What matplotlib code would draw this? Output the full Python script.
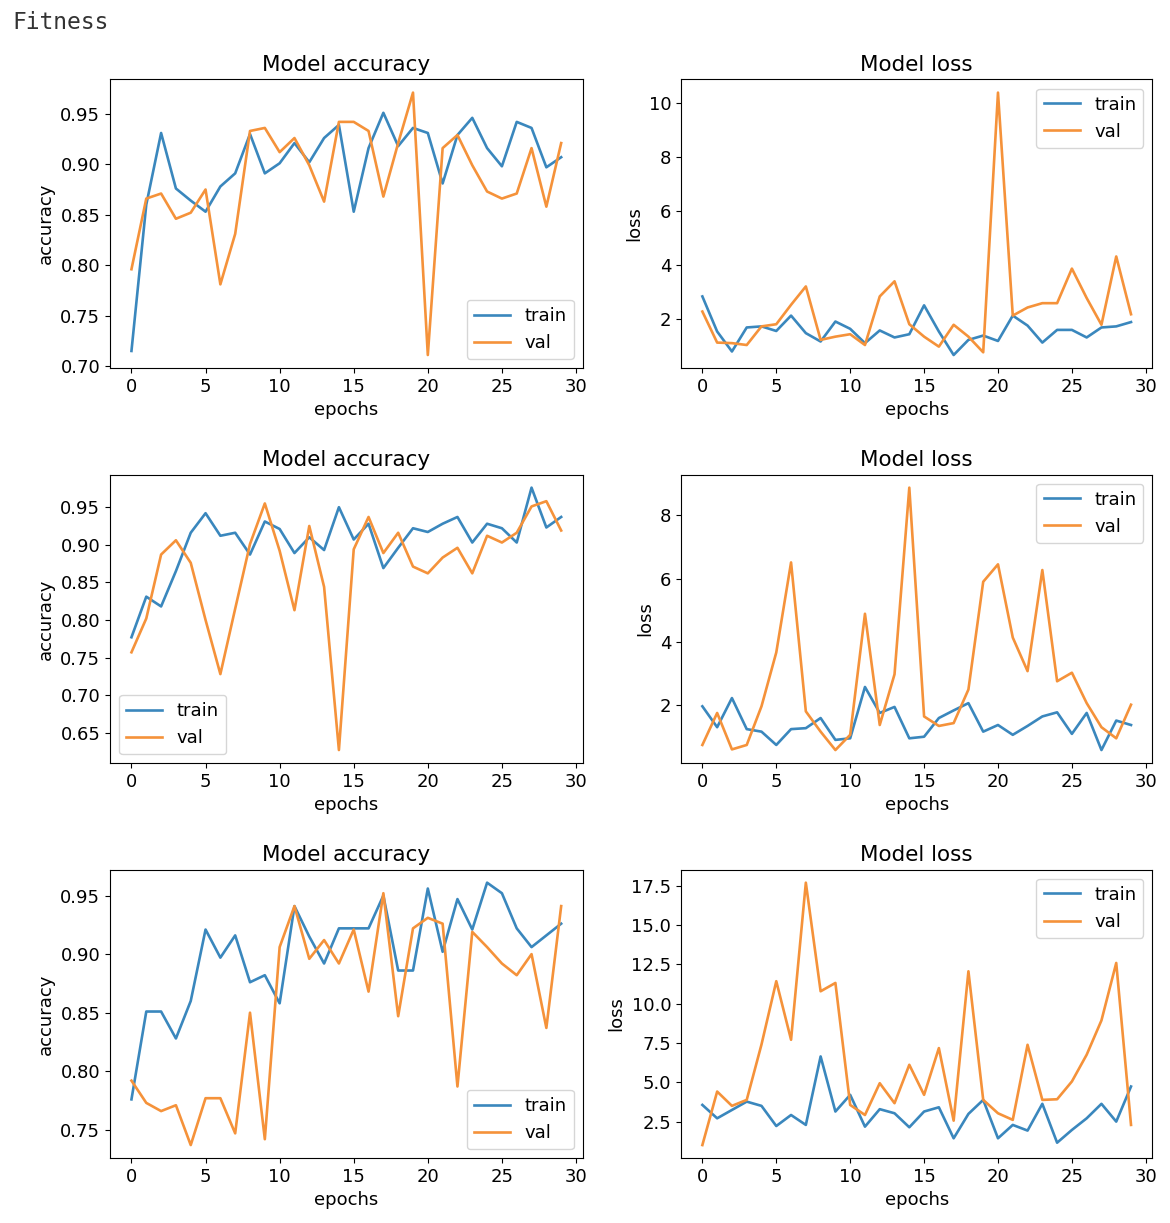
import numpy as np
import matplotlib
matplotlib.use("Agg")
import matplotlib.pyplot as plt

epochs = np.arange(30)

# run 1
acc1_train = [0.715, 0.860, 0.931, 0.876, 0.864, 0.853, 0.878, 0.891, 0.930, 0.891,
              0.901, 0.921, 0.902, 0.926, 0.939, 0.853, 0.916, 0.951, 0.918, 0.936,
              0.931, 0.881, 0.929, 0.946, 0.916, 0.898, 0.942, 0.936, 0.897, 0.907]
acc1_val = [0.796, 0.866, 0.871, 0.846, 0.852, 0.875, 0.781, 0.831, 0.933, 0.936,
            0.912, 0.926, 0.899, 0.863, 0.942, 0.942, 0.933, 0.868, 0.921, 0.971,
            0.711, 0.916, 0.929, 0.899, 0.873, 0.866, 0.871, 0.916, 0.858, 0.921]
loss1_train = [2.83, 1.53, 0.79, 1.68, 1.72, 1.55, 2.12, 1.47, 1.16, 1.90,
               1.63, 1.10, 1.57, 1.31, 1.43, 2.50, 1.53, 0.66, 1.22, 1.38,
               1.18, 2.12, 1.75, 1.12, 1.59, 1.59, 1.31, 1.68, 1.72, 1.88]
loss1_val = [2.27, 1.12, 1.10, 1.03, 1.72, 1.80, 2.52, 3.20, 1.22, 1.34,
             1.43, 1.03, 2.83, 3.39, 1.80, 1.34, 0.97, 1.78, 1.34, 0.76,
             10.38, 2.12, 2.42, 2.58, 2.58, 3.86, 2.77, 1.78, 4.31, 2.17]

# run 2
acc2_train = [0.777, 0.831, 0.818, 0.865, 0.916, 0.942, 0.912, 0.916, 0.887, 0.931,
              0.921, 0.889, 0.910, 0.893, 0.950, 0.907, 0.928, 0.869, 0.896, 0.922,
              0.917, 0.928, 0.937, 0.903, 0.928, 0.922, 0.903, 0.976, 0.923, 0.937]
acc2_val = [0.757, 0.802, 0.887, 0.906, 0.876, 0.800, 0.728, 0.815, 0.901, 0.955,
            0.892, 0.813, 0.925, 0.844, 0.627, 0.894, 0.937, 0.889, 0.916, 0.871,
            0.862, 0.883, 0.896, 0.862, 0.912, 0.903, 0.916, 0.951, 0.958, 0.919]
loss2_train = [1.97, 1.31, 2.23, 1.25, 1.17, 0.75, 1.25, 1.28, 1.60, 0.91,
               0.96, 2.58, 1.76, 1.95, 0.96, 1.01, 1.60, 1.84, 2.07, 1.17,
               1.38, 1.07, 1.35, 1.65, 1.78, 1.10, 1.76, 0.59, 1.52, 1.38]
loss2_val = [0.75, 1.76, 0.61, 0.75, 1.97, 3.67, 6.51, 1.81, 1.17, 0.59,
             1.07, 4.89, 1.38, 2.98, 8.87, 1.65, 1.35, 1.44, 2.50, 5.90,
             6.45, 4.14, 3.08, 6.27, 2.76, 3.03, 2.07, 1.31, 0.96, 2.02]

# run 3
acc3_train = [0.776, 0.851, 0.851, 0.828, 0.860, 0.921, 0.897, 0.916, 0.876, 0.882,
              0.858, 0.941, 0.915, 0.892, 0.922, 0.922, 0.922, 0.950, 0.886, 0.886,
              0.956, 0.902, 0.947, 0.921, 0.961, 0.952, 0.922, 0.906, 0.916, 0.926]
acc3_val = [0.792, 0.773, 0.766, 0.771, 0.737, 0.777, 0.777, 0.747, 0.850, 0.742,
            0.906, 0.941, 0.896, 0.912, 0.892, 0.921, 0.868, 0.952, 0.847, 0.922,
            0.931, 0.926, 0.787, 0.919, 0.906, 0.892, 0.882, 0.900, 0.837, 0.941]
loss3_train = [3.56, 2.71, 3.24, 3.77, 3.50, 2.22, 2.92, 2.29, 6.64, 3.14,
               4.20, 2.18, 3.29, 3.03, 2.14, 3.14, 3.41, 1.44, 2.99, 3.88,
               1.44, 2.29, 1.93, 3.63, 1.16, 1.97, 2.71, 3.63, 2.50, 4.73]
loss3_val = [1.01, 4.41, 3.50, 3.88, 7.40, 11.42, 7.70, 17.68, 10.78, 11.31,
             3.56, 2.92, 4.94, 3.67, 6.11, 4.20, 7.17, 2.56, 12.05, 3.88,
             3.03, 2.61, 7.38, 3.88, 3.92, 5.05, 6.75, 8.93, 12.58, 2.29]

# tick positions seen on the reference axes
x_ticks = [0, 5, 10, 15, 20, 25, 30]
acc1_ticks = [0.70, 0.75, 0.80, 0.85, 0.90, 0.95]
acc2_ticks = [0.65, 0.70, 0.75, 0.80, 0.85, 0.90, 0.95]
acc3_ticks = [0.75, 0.80, 0.85, 0.90, 0.95]
loss1_ticks = [2, 4, 6, 8, 10]
loss2_ticks = [2, 4, 6, 8]
loss3_ticks = [2.5, 5.0, 7.5, 10.0, 12.5, 15.0, 17.5]

runs = [
    (acc1_train, acc1_val, loss1_train, loss1_val, acc1_ticks, loss1_ticks, 'lower right'),
    (acc2_train, acc2_val, loss2_train, loss2_val, acc2_ticks, loss2_ticks, 'lower left'),
    (acc3_train, acc3_val, loss3_train, loss3_val, acc3_ticks, loss3_ticks, 'lower right'),
]

plt.rcParams['font.size'] = 13
plt.rcParams['lines.linewidth'] = 1.9

c_train = '#3a87bd'
c_val = '#f5923a'

fig = plt.figure(figsize=(11.7, 12.23), dpi=100)
fig.text(0.011, 0.982, 'Fitness', family='DejaVu Sans Mono', fontsize=16.5,
         va='center', ha='left', color='#333333')

rows_bottom = [0.699, 0.376, 0.053]
for r, (tr_acc, va_acc, tr_loss, va_loss, a_ticks, l_ticks, acc_loc) in enumerate(runs):
    b = rows_bottom[r]
    ax1 = fig.add_axes([0.094, b, 0.404, 0.236])
    ax1.plot(epochs, tr_acc, label='train', color=c_train)
    ax1.plot(epochs, va_acc, label='val', color=c_val)
    ax1.set_title('Model accuracy', fontsize=15.5)
    ax1.set_xlabel('epochs')
    ax1.set_ylabel('accuracy')
    ax1.set_xticks(x_ticks)
    ax1.set_yticks(a_ticks)
    ax1.set_yticklabels([f'{t:.2f}' for t in a_ticks])
    ax1.legend(loc=acc_loc)

    ax2 = fig.add_axes([0.582, b, 0.403, 0.236])
    ax2.plot(epochs, tr_loss, label='train', color=c_train)
    ax2.plot(epochs, va_loss, label='val', color=c_val)
    ax2.set_title('Model loss', fontsize=15.5)
    ax2.set_xlabel('epochs')
    ax2.set_ylabel('loss')
    ax2.set_xticks(x_ticks)
    ax2.set_yticks(l_ticks)
    if r == 2:
        ax2.set_yticklabels([f'{t:.1f}' for t in l_ticks])
    ax2.legend(loc='upper right')

fig.savefig('out.png', dpi=100)
